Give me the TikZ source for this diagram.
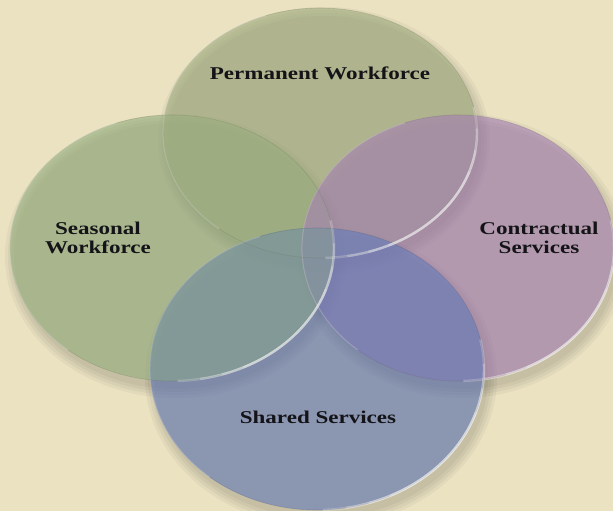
\documentclass[tikz,border=0pt]{standalone}
\usepackage{fontspec}
\setmainfont{Liberation Serif}
\newfontfamily\lblfont[FakeStretch=1.28]{Liberation Serif}
\definecolor{bg}{RGB}{235,226,194}
\definecolor{cTop}{RGB}{160,174,128}
\definecolor{cLeft}{RGB}{150,176,127}
\definecolor{cRight}{RGB}{166,128,182}
\definecolor{cBot}{RGB}{100,124,187}
\definecolor{txt}{RGB}{20,20,24}
\newcommand\diskshadow[4]{%
  \begin{scope}[shift={(#1,#2)}]
    \foreach \d in {0,3,6,9}{\fill[black,opacity=0.04] (4pt,-8pt) ellipse [x radius={#3pt+\d pt}, y radius={#4pt+\d pt}];}
  \end{scope}}
\newcommand\diskfill[5]{%
  \begin{scope}[shift={(#1,#2)}]
    \fill[#5, fill opacity=0.6] (0,0) ellipse [x radius=#3pt, y radius=#4pt];
  \end{scope}}
\newcommand\diskrim[5]{%
  \begin{scope}[shift={(#1,#2)}]
    \draw[#5!70!black, draw opacity=0.3, line width=0.6pt] (0,0) ellipse [x radius=#3pt, y radius=#4pt];
    \foreach \a/\b in {-88/12,-80/2,-72/-8,-64/-18}{%
      \draw[white, draw opacity=0.22, line width=2.4pt] (\a:#3pt and #4pt) arc [start angle=\a, end angle=\b, x radius=#3pt, y radius=#4pt];}
    \draw[white, draw opacity=0.25, line width=1pt] (110:#3pt and #4pt) arc [start angle=110, end angle=230, x radius=#3pt, y radius=#4pt];
  \end{scope}}
\begin{document}
\begin{tikzpicture}[x=1pt,y=-1pt,
  lbl/.style={font=\lblfont\bfseries\fontsize{18}{19}\selectfont, text=txt, align=center, inner sep=0pt}]
\fill[bg] (0,0) rectangle (613,511);
\useasboundingbox (0,0) rectangle (613,511);
% shadows
\diskshadow{458}{248}{156}{133}
\diskshadow{317}{369}{167}{141}
\diskshadow{172}{248}{162}{133}
\diskshadow{320}{133}{157}{125}
% disk faces
\diskfill{172}{248}{162}{133}{cLeft}
\diskfill{320}{133}{157}{125}{cTop}
\diskfill{458}{248}{156}{133}{cRight}
\diskfill{317}{369}{167}{141}{cBot}
% green tint where the seasonal disk lies over the shared one
\begin{scope}
  \clip (317,369) ellipse [x radius=167pt, y radius=141pt];
  \fill[cLeft, fill opacity=0.35] (172,248) ellipse [x radius=162pt, y radius=133pt];
\end{scope}
% rims
\diskrim{458}{248}{156}{133}{cRight}
\diskrim{317}{369}{167}{141}{cBot}
\diskrim{320}{133}{157}{125}{cTop}
\diskrim{172}{248}{162}{133}{cLeft}
% labels
\node[lbl] (perm) at (320,73) {Permanent Workforce};
\node[lbl] (seas) at (98,238) {Seasonal\\Workforce};
\node[lbl] (cont) at (539,238) {Contractual\\Services};
\node[lbl] (shar) at (318,417) {Shared Services};
\end{tikzpicture}
\end{document}
